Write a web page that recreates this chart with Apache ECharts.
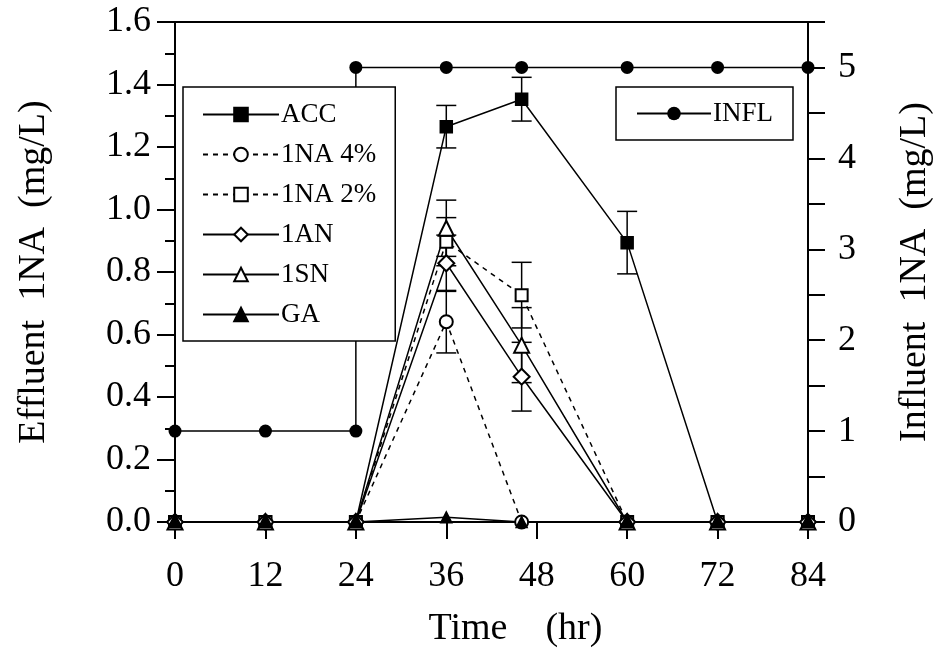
<!DOCTYPE html>
<html>
<head>
<meta charset="utf-8">
<script src="https://cdn.jsdelivr.net/npm/echarts@6/dist/echarts.min.js"></script>
<style>html,body{margin:0;padding:0;background:#fff}#c{width:938px;height:658px}</style>
</head>
<body>
<div id="c"></div>
<script>
// ---- data ----
var time = [0, 12, 24, 36, 46, 60, 72, 84];
var accVals = [0, 0, 0, 1.265, 1.353, 0.894, 0, 0];
var accErr = [0, 0, 0, 0.068, 0.07, 0.1, 0, 0];
var na4Vals = [0, 0, 0, 0.641, 0, 0, 0, 0];
var na4Err = [0, 0, 0, 0.1, 0, 0, 0, 0];
var na2Vals = [0, 0, 0, 0.897, 0.726, 0, 0, 0];
var na2Err = [0, 0, 0, 0.077, 0.105, 0, 0, 0];
var anVals = [0, 0, 0, 0.828, 0.465, 0, 0, 0];
var anErr = [0, 0, 0, 0.09, 0.11, 0, 0, 0];
var snVals = [0, 0, 0, 0.94, 0.566, 0, 0, 0];
var snErr = [0, 0, 0, 0.09, 0.12, 0, 0, 0];
var gaVals = [0, 0, 0, 0.015, 0, 0, 0, 0];
var inflTime = [0, 12, 24, 24, 36, 46, 60, 72, 84];
var inflVals = [1, 1, 1, 5, 5, 5, 5, 5, 5];
var xTicks = [0, 12, 24, 36, 48, 60, 72, 84];

function pairs(xs, ys) { return xs.map(function (x, i) { return [x, ys[i]]; }); }
var errData = [];
[[accVals, accErr], [na4Vals, na4Err], [na2Vals, na2Err], [anVals, anErr], [snVals, snErr]].forEach(function (s) {
  time.forEach(function (t, i) {
    if (s[1][i] > 0) errData.push([t, s[0][i] - s[1][i], s[0][i] + s[1][i]]);
  });
});

var FONT = 'Liberation Serif';
var chart = echarts.init(document.getElementById('c'), null, {renderer: 'canvas'});

function lineSeries(name, data, symbol, size, dashed) {
  return {
    name: name, type: 'line', data: data, symbol: symbol, symbolSize: size,
    xAxisIndex: 0, yAxisIndex: 0,
    lineStyle: {color: '#000', width: 1.5, type: dashed ? [5, 5] : 'solid'},
    itemStyle: {color: '#000', borderColor: '#000', borderWidth: 1.5},
    emphasis: {disabled: true}, animation: false, z: 3
  };
}

var option = {
  animation: false,
  backgroundColor: '#fff',
  textStyle: {fontFamily: FONT, color: '#000'},
  grid: {left: 175, right: 130, top: 22, bottom: 136, containLabel: false, outerBoundsMode: 'none'},
  legend: [
    {
      data: ['ACC', '1NA 4%', '1NA 2%', '1AN', '1SN', 'GA'],
      orient: 'vertical', left: 183, top: 87,
      padding: [14, 19, 13, 19],
      itemWidth: 76, itemHeight: 17, itemGap: 13,
      borderColor: '#000', borderWidth: 1.5, backgroundColor: '#fff',
      textStyle: {fontFamily: FONT, fontSize: 27, color: '#000', padding: [0, 0, 0, -3]},
      selectedMode: false, z: 10
    },
    {
      data: ['INFL'],
      orient: 'vertical', left: 616, top: 87,
      padding: [13, 20, 13, 20],
      itemWidth: 74, itemHeight: 17,
      borderColor: '#000', borderWidth: 1.5, backgroundColor: '#fff',
      textStyle: {fontFamily: FONT, fontSize: 27, color: '#000', padding: [0, 0, 0, -3]},
      selectedMode: false, z: 10
    }
  ],
  xAxis: [
    {
      type: 'value', min: 0, max: 84, interval: 12, position: 'bottom',
      name: 'Time    (hr)', nameLocation: 'middle', nameGap: 88,
      nameTextStyle: {fontFamily: FONT, fontSize: 38, color: '#000', padding: [0, 0, 0, 48]},
      axisLine: {show: true, onZero: false, lineStyle: {color: '#000', width: 2}},
      axisTick: {show: true, inside: false, length: 17, lineStyle: {color: '#000', width: 2}},
      axisLabel: {fontFamily: FONT, fontSize: 36, color: '#000', margin: 37,
        formatter: function (v) { return xTicks.indexOf(v) >= 0 ? String(v) : ''; }},
      splitLine: {show: false}
    },
    {
      type: 'value', min: 0, max: 84, position: 'top',
      axisLine: {show: true, onZero: false, lineStyle: {color: '#000', width: 2}},
      axisTick: {show: false}, axisLabel: {show: false}, splitLine: {show: false}
    }
  ],
  yAxis: [
    {
      type: 'value', min: 0, max: 1.6, interval: 0.2, position: 'left',
      name: 'Effluent  1NA  (mg/L)', nameLocation: 'middle', nameGap: 122, nameRotate: 90,
      nameTextStyle: {fontFamily: FONT, fontSize: 38, color: '#000'},
      axisLine: {show: true, onZero: false, lineStyle: {color: '#000', width: 2}},
      axisTick: {show: true, inside: false, length: 18, lineStyle: {color: '#000', width: 2}},
      minorTick: {show: true, splitNumber: 2, length: 10, lineStyle: {color: '#000', width: 2}},
      axisLabel: {fontFamily: FONT, fontSize: 36, color: '#000', margin: 24,
        formatter: function (v) { return v.toFixed(1); }},
      splitLine: {show: false}, minorSplitLine: {show: false}
    },
    {
      type: 'value', min: 0, max: 5.5, interval: 0.5, position: 'right',
      name: 'Influent  1NA  (mg/L)', nameLocation: 'middle', nameGap: 88, nameRotate: 90,
      nameTextStyle: {fontFamily: FONT, fontSize: 38, color: '#000'},
      axisLine: {show: true, onZero: false, lineStyle: {color: '#000', width: 2}},
      axisTick: {show: true, inside: false, length: 17, lineStyle: {color: '#000', width: 2}},
      axisLabel: {fontFamily: FONT, fontSize: 36, color: '#000', margin: 30,
        formatter: function (v) { return Math.abs(v - Math.round(v)) < 1e-6 && v <= 5 ? String(Math.round(v)) : ''; }},
      splitLine: {show: false}
    }
  ],
  series: [
    {
      name: 'err', type: 'custom', xAxisIndex: 0, yAxisIndex: 0, data: errData, z: 2,
      renderItem: function (params, api) {
        var x = api.value(0);
        var lo = api.coord([x, api.value(1)]);
        var hi = api.coord([x, api.value(2)]);
        var w = 10;
        var st = {stroke: '#000', lineWidth: 1.5};
        return {type: 'group', children: [
          {type: 'line', shape: {x1: lo[0], y1: lo[1], x2: hi[0], y2: hi[1]}, style: st},
          {type: 'line', shape: {x1: lo[0] - w, y1: lo[1], x2: lo[0] + w, y2: lo[1]}, style: st},
          {type: 'line', shape: {x1: hi[0] - w, y1: hi[1], x2: hi[0] + w, y2: hi[1]}, style: st}
        ]};
      },
      silent: true, animation: false
    },
    {
      name: 'INFL', type: 'line', data: pairs(inflTime, inflVals), symbol: 'circle', symbolSize: 13,
      xAxisIndex: 0, yAxisIndex: 1,
      lineStyle: {color: '#000', width: 1.5}, itemStyle: {color: '#000'},
      emphasis: {disabled: true}, animation: false, z: 3
    },
    lineSeries('ACC', pairs(time, accVals), 'rect', 12, false),
    lineSeries('1NA 4%', pairs(time, na4Vals), 'emptyCircle', 13, true),
    lineSeries('1NA 2%', pairs(time, na2Vals), 'emptyRect', 12, true),
    lineSeries('1AN', pairs(time, anVals), 'emptyDiamond', 16, false),
    lineSeries('1SN', pairs(time, snVals), 'emptyTriangle', 15, false),
    lineSeries('GA', pairs(time, gaVals), 'triangle', 11, false)
  ]
};
chart.setOption(option);
</script>
</body>
</html>
